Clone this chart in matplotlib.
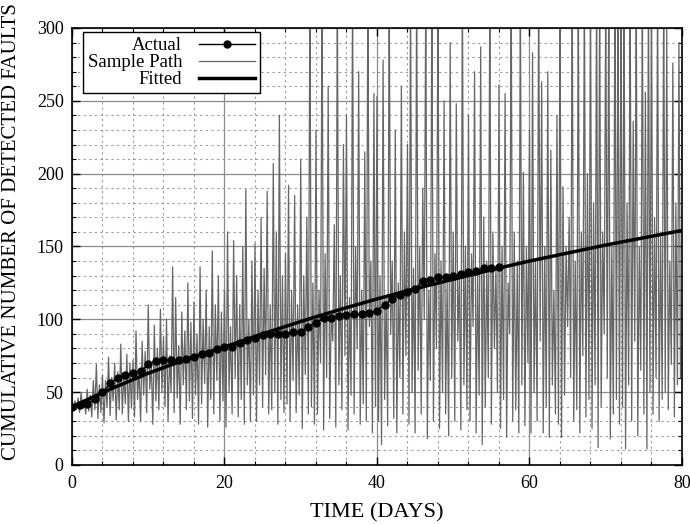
import numpy as np
import matplotlib
matplotlib.use("Agg")
import matplotlib.pyplot as plt
import matplotlib.transforms as mtransforms
from matplotlib.ticker import MultipleLocator

plt.rcParams['font.family'] = ['Liberation Serif', 'DejaVu Serif']

# ---- Actual data (one point per day, days 0..56)
actual_days = list(range(0, 57))
actual_vals = [40, 41, 42, 45, 50, 56, 60, 61.5, 63, 64.5,
               69, 71.4, 72, 72, 72, 73, 74, 76, 77, 79.4,
               81, 81, 83.5, 86, 87, 89, 90, 90, 90, 91,
               91.5, 95, 97.7, 100.7, 101, 102.5, 103, 103.4, 103.4, 104,
               106, 110, 114, 116.7, 119, 121, 126, 127, 129, 129,
               130, 131, 132.7, 133, 135, 135.4, 136]

# ---- Fitted curve
fit_days = [0, 5, 10, 15, 20, 25, 30, 35, 40, 45, 50, 55, 60, 65, 70, 75, 80]
fit_vals = [40, 52, 63, 72.5, 81, 90, 98.5, 106.5, 114, 121, 127.5, 134,
            140, 145.5, 151, 156, 161]

# ---- Sample path: local highs / lows, one pair per 0.4 day (days 0..80)
sample_highs = [
    42, 44, 46, 50, 45, 52, 48, 58, 69, 55,
    62, 58, 74, 60, 70, 64, 83, 62, 76, 70,
    72, 92, 66, 85, 78, 110, 70, 96, 80, 107,
    88, 100, 75, 136, 115, 82, 105, 92, 125, 98,
    112, 90, 136, 100, 120, 95, 147, 110, 130, 105,
    120, 160, 95, 154, 130, 110, 150, 189, 100, 140,
    152, 120, 170, 135, 188, 110, 207, 160, 240, 130,
    145, 192, 120, 185, 110, 210, 130, 170, 330, 125,
    230, 120, 330, 145, 260, 105, 165, 330, 130, 220,
    240, 115, 330, 150, 270, 120, 215, 330, 140, 255,
    253, 130, 278, 115, 330, 140, 230, 125, 260, 160,
    220, 330, 135, 330, 150, 190, 330, 120, 330, 145,
    330, 140, 250, 125, 290, 160, 248, 130, 330, 150,
    240, 145, 270, 130, 287, 170, 140, 330, 160, 135,
    261, 150, 255, 125, 330, 160, 140, 330, 201, 150,
    230, 283, 140, 330, 263, 150, 270, 216, 120, 240,
    330, 191, 150, 170, 330, 140, 330, 160, 330, 200,
    330, 180, 330, 330, 160, 330, 330, 150, 330, 330,
    330, 330, 180, 330, 236, 330, 150, 330, 256, 330,
    330, 170, 330, 160, 330, 300, 140, 276, 180, 290,
]
sample_lows = [
    40, 38, 36, 39, 35, 37, 33, 38, 32, 36,
    29, 40, 34, 44, 31, 38, 35, 42, 30, 39,
    33, 45, 30, 48, 36, 52, 28, 44, 38, 50,
    40, 30, 50, 36, 46, 28, 55, 38, 44, 32,
    48, 28, 42, 56, 26, 45, 35, 58, 30, 44,
    26, 50, 35, 60, 33, 45, 28, 55, 30, 48,
    30, 55, 40, 62, 35, 38, 50, 28, 45, 36,
    42, 30, 58, 36, 48, 25, 62, 35, 40, 28,
    35, 70, 24, 60, 32, 85, 26, 55, 38, 75,
    24, 48, 35, 80, 28, 42, 30, 95, 22, 40,
    30, 14, 45, 27, 90, 32, 22, 60, 35, 75,
    28, 50, 22, 65, 35, 100, 18, 58, 30, 80,
    25, 50, 35, 20, 60, 30, 85, 24, 55, 38,
    30, 95, 22, 48, 14, 40, 60, 28, 80, 50,
    25, 45, 19, 90, 30, 38, 22, 55, 27, 70,
    22, 50, 30, 85, 22, 40, 19, 55, 35, 28,
    19, 48, 95, 60, 30, 38, 22, 75, 33, 45,
    25, 55, 12, 40, 90, 60, 18, 35, 45, 28,
    40, 11, 55, 30, 85, 20, 65, 35, 11, 50,
    35, 60, 30, 45, 50, 38, 69, 33, 55, 60,
]

sample_vals = np.empty(2 * len(sample_highs))
sample_vals[0::2] = sample_highs
sample_vals[1::2] = sample_lows
sample_vals[0] = 40
sample_days = np.arange(len(sample_vals)) * 0.2

fig = plt.figure(figsize=(6.9, 5.24), dpi=100)
ax = fig.add_axes([0.1043, 0.1126, 0.8841, 0.834])

ax.plot(sample_days, sample_vals, color='#666666', lw=0.9, zorder=2,
        label='Sample Path')
ax.plot(actual_days, actual_vals, color='black', lw=1.0, marker='o',
        markersize=5, zorder=4, label='Actual')
ax.plot(fit_days, fit_vals, color='black', lw=2.5, zorder=3, label='Fitted')

ax.set_xlim(0, 80)
ax.set_ylim(0, 300)
ax.xaxis.set_major_locator(MultipleLocator(20))
ax.xaxis.set_minor_locator(MultipleLocator(4))
ax.yaxis.set_major_locator(MultipleLocator(50))
ax.yaxis.set_minor_locator(MultipleLocator(10))

ax.grid(which='major', color='#8c8c8c', lw=0.9, ls='-', zorder=1)
ax.grid(which='minor', color='#9a9a9a', lw=0.8, ls=(0, (2, 3)), zorder=1)
ax.set_axisbelow(True)

ax.tick_params(which='both', direction='in', top=True, right=True,
               labelsize=13, colors='black')
ax.tick_params(which='major', length=6, width=1)
ax.tick_params(which='minor', length=3, width=0.8)
ax.tick_params(axis='x', which='major', pad=7)
ax.tick_params(axis='y', which='major', pad=6)
for s in ax.spines.values():
    s.set_linewidth(1.2)
    s.set_zorder(5)

ax.set_xlabel('TIME (DAYS)', fontsize=16, labelpad=8)
ax.set_ylabel('CUMULATIVE NUMBER OF DETECTED FAULTS', fontsize=15)
ax.yaxis.set_label_coords(-0.083, 0.535)

# shift last x tick label slightly left so it stays inside the figure
fig.canvas.draw()
xt = ax.get_xticklabels()
if xt:
    last = xt[-1]
    last.set_transform(last.get_transform() +
                       mtransforms.ScaledTranslation(-4 / 100, 0, fig.dpi_scale_trans))

h, l = ax.get_legend_handles_labels()
order = [1, 0, 2]
leg = ax.legend([h[i] for i in order], [l[i] for i in order],
                loc='upper left', bbox_to_anchor=(0.018, 0.99),
                markerfirst=False, fontsize=13.5, frameon=True, fancybox=False,
                edgecolor='black', framealpha=1, handlelength=3.0,
                labelspacing=0.0, borderpad=0.25, handletextpad=0.9,
                borderaxespad=0.0)
leg.get_frame().set_linewidth(1.0)
leg.set_zorder(6)

fig.savefig('out.png', dpi=100)
